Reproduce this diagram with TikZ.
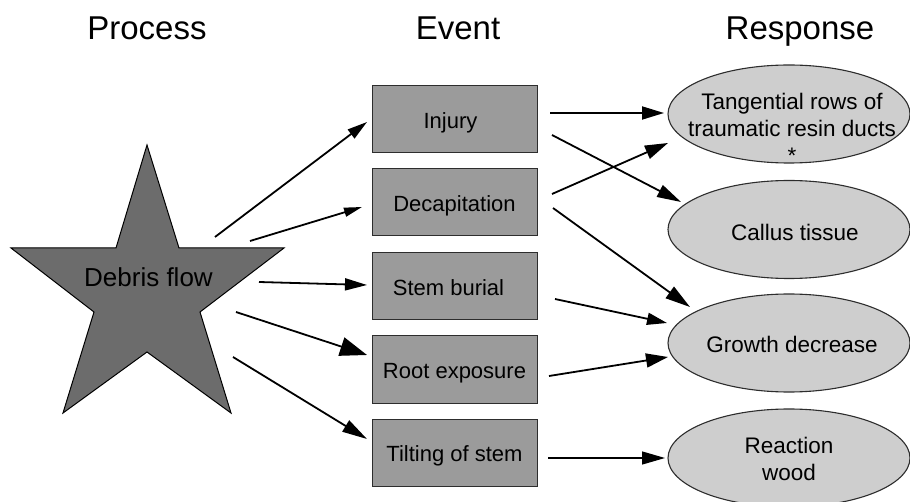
\documentclass[tikz,border=0pt]{standalone}
\usepackage{fontspec}
\setmainfont{Liberation Sans}
\usetikzlibrary{arrows.meta,shapes.geometric}
\definecolor{stargray}{RGB}{108,108,108}
\definecolor{boxgray}{RGB}{155,155,155}
\definecolor{ellgray}{RGB}{206,206,206}
\definecolor{edgegray}{RGB}{45,45,45}
\tikzset{
  title/.style={anchor=base,font=\fontsize{33}{37}\selectfont},
  eventbox/.style={rectangle,draw=edgegray,line width=1pt,fill=boxgray,minimum width=165pt,minimum height=67pt,inner sep=0pt,outer sep=0pt,
    font=\fontsize{22}{26}\selectfont,text height=18pt,text depth=0pt},
  respell/.style={ellipse,draw=edgegray,line width=1.1pt,fill=ellgray,minimum width=242pt,minimum height=98pt,inner sep=0pt,outer sep=0pt},
  resptext/.style={font=\fontsize{22.5}{27}\selectfont,align=center},
  arr/.style={line width=1.8pt,-{Triangle[length=#1]}},
  arr/.default={22pt,width=12pt},
}
\begin{document}
\begin{tikzpicture}[x=1pt,y=-1pt]
\useasboundingbox (0,0) rectangle (910,502);

% titles
\node[title] (tproc) at (147,40) {Process};
\node[title] (tevent) at (458,40) {Event};
\node[title] (tresp) at (800,40) {Response};

% star
\coordinate (df) at (147.5,280);
\draw[fill=stargray,draw=black,line width=1pt,line join=miter]
  (147,145) -- (179,248) -- (284,248) -- (200,312) -- (231,413) -- (147,352)
  -- (63,413) -- (94,312) -- (11,248) -- (116,248) -- cycle;
\node[anchor=base,font=\fontsize{26}{30}\selectfont] (dftext) at (148.5,287) {Debris flow};

% event boxes
\node[eventbox] (inj) at (454.5,119.5) {\hspace*{-8pt}Injury};
\node[eventbox] (dec) at (454.5,202.5) {Decapitation};
\node[eventbox] (stem) at (454.5,286.5) {\hspace*{-12pt}Stem burial};
\node[eventbox] (root) at (454.5,369.5) {Root exposure};
\node[eventbox] (tilt) at (454.5,452.5) {Tilting of stem};

% response ellipses
\node[respell] (tang) at (789,114) {};
\node[respell] (call) at (789,229.5) {};
\node[respell] (grow) at (789,343) {};
\node[respell] (react) at (789,458) {};
\node[resptext] (tangt) at (792,128) {Tangential rows of\\traumatic resin ducts\\*};
\node[resptext] (callt) at (795,232) {Callus tissue};
\node[resptext] (growt) at (792,344.5) {Growth decrease};
\node[resptext] (reactt) at (789,458.5) {Reaction\\wood};

% star to events
\draw[arr={20pt,width=11pt}] ([shift={(67.5,-43)}]df) -- ([shift={(-5,2.5)}]inj.west);
\draw[arr={18pt,width=9pt}] ([shift={(102.5,-39)}]df) -- ([shift={(-10,4.5)}]dec.west);
\draw[arr={22pt,width=12pt}] ([shift={(111.5,2)}]df) -- ([shift={(-5,-1.5)}]stem.west);
\draw[arr={27pt,width=19pt}] ([shift={(88.5,32)}]df) -- ([shift={(-5,-14.5)}]root.west);
\draw[arr={25pt,width=13pt}] ([shift={(85.5,77)}]df) -- ([shift={(-5,-13.5)}]tilt.west);

% events to responses
\draw[arr={22pt,width=13pt}] ([shift={(13,-6.5)}]inj.east) -- ([shift={(-4,-1)}]tang.west);
\draw[arr={24pt,width=13pt}] ([shift={(15,15.5)}]inj.east) -- ([shift={(13,-27.5)}]call.west);
\draw[arr={23pt,width=14pt}] ([shift={(15,-8.5)}]dec.east) -- ([shift={(0,29)}]tang.west);
\draw[arr={25pt,width=14pt}] ([shift={(16,5.5)}]dec.east) -- ([shift={(22,-36)}]grow.west);
\draw[arr={20pt,width=12pt}] ([shift={(18,12.5)}]stem.east) -- ([shift={(-1,-20)}]grow.west);
\draw[arr={22pt,width=14pt}] ([shift={(12,6.5)}]root.east) -- ([shift={(0,14)}]grow.west);
\draw[line width=1.3pt,-{Triangle[length=23pt,width=13pt]}] ([shift={(11,5.5)}]tilt.east) -- ([shift={(-3,0)}]react.west);
\end{tikzpicture}
\end{document}
